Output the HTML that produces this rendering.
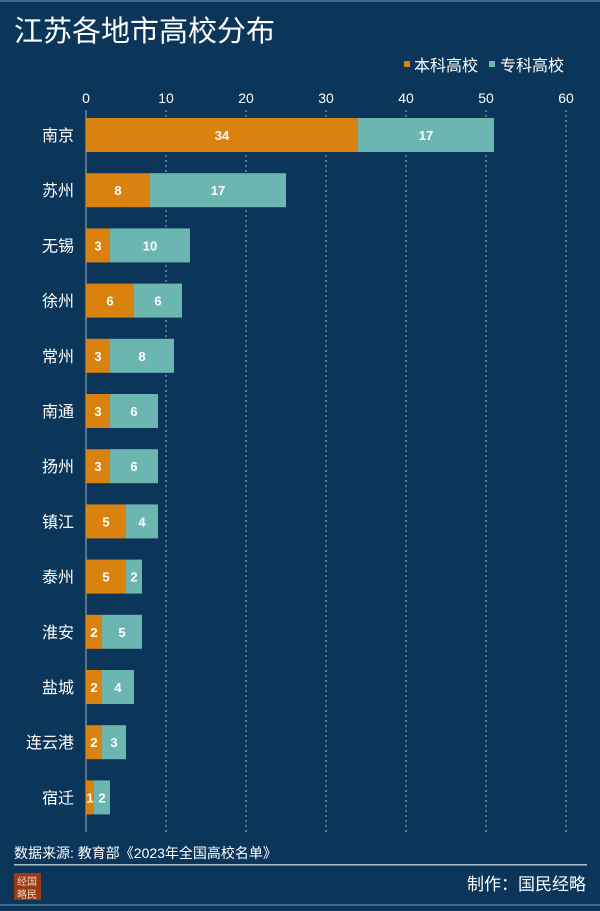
<!DOCTYPE html>
<html><head><meta charset="utf-8"><style>
body{margin:0;width:600px;height:906px;background:#0b365a;overflow:hidden;font-family:"Liberation Sans","Noto Sans CJK SC",sans-serif;color:#fff}
</style></head><body>
<svg width="600" height="906" xmlns="http://www.w3.org/2000/svg" font-family="Liberation Sans, Noto Sans CJK SC, sans-serif">
<rect x="0" y="0" width="600" height="2" fill="#3d6a8e"/>
<rect x="0" y="904" width="600" height="2" fill="#3d6a8e"/>
<text x="14" y="41" font-size="29" fill="#fff">江苏各地市高校分布</text>
<g>
<rect x="404" y="61" width="6" height="6" fill="#d9820f"/>
<text x="414" y="71" font-size="16" fill="#fff">本科高校</text>
<rect x="489" y="61" width="6" height="6" fill="#6cb6b2"/>
<text x="500" y="71" font-size="16" fill="#fff">专科高校</text>
</g>
<g id="axis"></g>
<g id="bars"></g>
<text x="14" y="858" font-size="14" fill="#fff">数据来源: 教育部《2023年全国高校名单》</text>
<rect x="14" y="864" width="573" height="1.5" fill="#a9bfd0"/>
<g>
<rect x="14" y="873" width="27" height="27" fill="#9a3a14"/>
<text x="17" y="885" font-size="10" fill="#f3d2c0">经国</text>
<text x="17" y="898" font-size="10" fill="#f3d2c0">略民</text>
</g>
<text x="586" y="890" font-size="17" fill="#fff" text-anchor="end">制作：国民经略</text>
</svg>
<script>
const cities=["南京","苏州","无锡","徐州","常州","南通","扬州","镇江","泰州","淮安","盐城","连云港","宿迁"];
const undergrad=[34,8,3,6,3,3,3,5,5,2,2,2,1];
const vocational=[17,17,10,6,8,6,6,4,2,5,4,3,2];
const ticks=[0,10,20,30,40,50,60];
const NS="http://www.w3.org/2000/svg";
const x=v=>86+v*8;
const yc=i=>135+i*55.2;
function mk(t,a,p){const e=document.createElementNS(NS,t);for(const k in a)e.setAttribute(k,a[k]);p.appendChild(e);return e;}
const ax=document.getElementById('axis');
ticks.forEach(t=>{
 const tx=mk('text',{x:x(t),y:103,'font-size':14,fill:'#fff','text-anchor':'middle'},ax);tx.textContent=t;
 
 
 if(t>0){const g=mk('line',{x1:x(t),x2:x(t),y1:110,y2:832,stroke:'#9fb5c8','stroke-width':1,'stroke-dasharray':'2,3'},ax);
 
 }
});
const al=mk('line',{x1:86,x2:86,y1:110,y2:832,stroke:'#9fb5c8','stroke-width':1},ax);


const bg=document.getElementById('bars');
cities.forEach((c,i)=>{
 const y=yc(i);
 const l=mk('text',{x:74,y:y+6,'font-size':16,fill:'#fff','text-anchor':'end'},bg);l.textContent=c;
 
 
 const r1=mk('rect',{x:x(0),y:y-17,width:x(undergrad[i])-x(0),height:34,fill:'#d9820f'},bg);
 
 
 const r2=mk('rect',{x:x(undergrad[i]),y:y-17,width:x(undergrad[i]+vocational[i])-x(undergrad[i]),height:34,fill:'#6cb6b2'},bg);
 
 
 const t1=mk('text',{x:(x(0)+x(undergrad[i]))/2,y:y+5,'font-size':13,'font-weight':'bold',fill:'#fff','text-anchor':'middle'},bg);t1.textContent=undergrad[i];
 
 
 const t2=mk('text',{x:(x(undergrad[i])+x(undergrad[i]+vocational[i]))/2,y:y+5,'font-size':13,'font-weight':'bold',fill:'#fff','text-anchor':'middle'},bg);t2.textContent=vocational[i];
 
 
});
</script>
</body></html>
